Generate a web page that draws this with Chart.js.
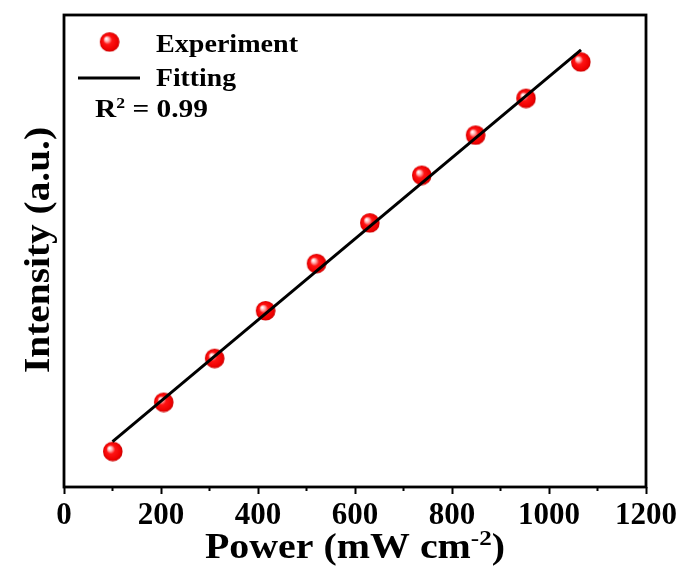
<!DOCTYPE html>
<html>
<head>
<meta charset="utf-8">
<title>Intensity vs Power</title>
<script src="https://cdn.jsdelivr.net/npm/chart.js@4/dist/chart.umd.min.js"></script>
<style>
  html, body { margin: 0; padding: 0; background: #fff; }
  #wrap { width: 683px; height: 577px; }
</style>
</head>
<body>
<div id="wrap"><canvas id="chart" width="683" height="577"></canvas></div>
<script>
// measured points
const powerX = [100, 205, 310, 415, 520, 630, 737, 848, 952, 1065];
const intensity = [7.6, 18.0, 27.3, 37.4, 47.4, 56.0, 66.1, 74.6, 82.4, 90.1];
// linear fit end points
const fitX = [100, 1066];
const fitY = [9.6, 92.6];
const xTicks = [0, 200, 400, 600, 800, 1000, 1200];

const FONT = "'Liberation Serif', 'Times New Roman', serif";

// red glossy ball used as point marker
function makeBall(r) {
  const c = document.createElement("canvas");
  c.width = c.height = r * 2 + 2;
  const g = c.getContext("2d");
  const m = r + 1;
  const grad = g.createRadialGradient(m - r * 0.35, m - r * 0.35, 0.5, m, m, r);
  grad.addColorStop(0, "#ffffff");
  grad.addColorStop(0.2, "#ffa8a8");
  grad.addColorStop(0.42, "#ff1414");
  grad.addColorStop(0.85, "#ee0000");
  grad.addColorStop(1, "#c80000");
  g.fillStyle = grad;
  g.beginPath();
  g.arc(m, m, r, 0, Math.PI * 2);
  g.fill();
  return c;
}
const ball = makeBall(9.8);

// draw a row of text runs (for superscripts), stretched to a given width
function drawRuns(ctx, runs, x, y, width, align) {
  let natural = 0;
  runs.forEach(r => {
    ctx.font = "bold " + r.size + "px " + FONT;
    r.w = ctx.measureText(r.text).width;
    natural += r.w;
  });
  const sx = width / natural;
  ctx.save();
  ctx.translate(align === "center" ? x - width / 2 : x, y);
  ctx.scale(sx, 1);
  ctx.fillStyle = "#000";
  ctx.textBaseline = "alphabetic";
  ctx.textAlign = "left";
  let cx = 0;
  runs.forEach(r => {
    ctx.font = "bold " + r.size + "px " + FONT;
    ctx.fillText(r.text, cx, r.dy || 0);
    cx += r.w;
  });
  ctx.restore();
}

const decorations = {
  id: "decorations",
  afterDraw(chart) {
    const ctx = chart.ctx;
    const a = chart.chartArea;
    const xs = chart.scales.x;

    // frame
    ctx.save();
    ctx.strokeStyle = "#000";
    ctx.lineWidth = 2.8;
    ctx.strokeRect(a.left, a.top, a.right - a.left, a.bottom - a.top);

    // minor ticks
    ctx.lineWidth = 2;
    for (let v = 100; v < 1200; v += 200) {
      const px = xs.getPixelForValue(v);
      ctx.beginPath();
      ctx.moveTo(px, a.bottom);
      ctx.lineTo(px, a.bottom + 4);
      ctx.stroke();
    }
    ctx.restore();

    // axis titles
    drawRuns(ctx, [
      { text: "Power (mW cm", size: 35 },
      { text: "-2", size: 22, dy: -13 },
      { text: ")", size: 35 }
    ], 355, 558, 300, "center");

    ctx.save();
    ctx.translate(49, 250);
    ctx.rotate(-Math.PI / 2);
    drawRuns(ctx, [{ text: "Intensity (a.u.)", size: 35 }], 0, 0, 246, "center");
    ctx.restore();

    // legend
    ctx.drawImage(ball, 109.3 - ball.width / 2, 41.7 - ball.height / 2);
    ctx.save();
    ctx.strokeStyle = "#000";
    ctx.lineWidth = 3;
    ctx.beginPath();
    ctx.moveTo(78, 78);
    ctx.lineTo(140, 78);
    ctx.stroke();
    ctx.restore();
    drawRuns(ctx, [{ text: "Experiment", size: 25 }], 156, 51.5, 142);
    drawRuns(ctx, [{ text: "Fitting", size: 25 }], 156, 85.5, 80);
    drawRuns(ctx, [
      { text: "R", size: 25 },
      { text: "2", size: 15, dy: -9 },
      { text: " = 0.99", size: 25 }
    ], 95, 117, 113);
  }
};

new Chart(document.getElementById("chart"), {
  data: {
    datasets: [
      {
        type: "line",
        label: "Fitting",
        data: fitX.map((x, i) => ({ x: x, y: fitY[i] })),
        borderColor: "#000",
        borderWidth: 3,
        pointRadius: 0,
        order: 0
      },
      {
        type: "scatter",
        label: "Experiment",
        data: powerX.map((x, i) => ({ x: x, y: intensity[i] })),
        pointStyle: ball,
        order: 1
      }
    ]
  },
  options: {
    responsive: false,
    animation: false,
    events: [],
    layout: { padding: { top: 15, right: 37, left: 0, bottom: 0 } },
    plugins: { legend: { display: false }, tooltip: { enabled: false } },
    scales: {
      x: {
        type: "linear",
        min: 0,
        max: 1200,
        afterFit: s => { s.height = 90; },
        afterBuildTicks: s => { s.ticks = xTicks.map(v => ({ value: v })); },
        border: { display: false },
        grid: {
          drawOnChartArea: false,
          tickLength: 7,
          tickWidth: 2,
          tickColor: "#000"
        },
        ticks: {
          color: "#000",
          padding: 3,
          maxRotation: 0,
          callback: v => String(v),
          font: { family: FONT, size: 31, weight: "bold" }
        }
      },
      y: {
        min: 0,
        max: 100,
        afterFit: s => { s.width = 64; },
        border: { display: false },
        grid: { display: false },
        ticks: { display: false }
      }
    }
  },
  plugins: [decorations]
});
</script>
</body>
</html>
